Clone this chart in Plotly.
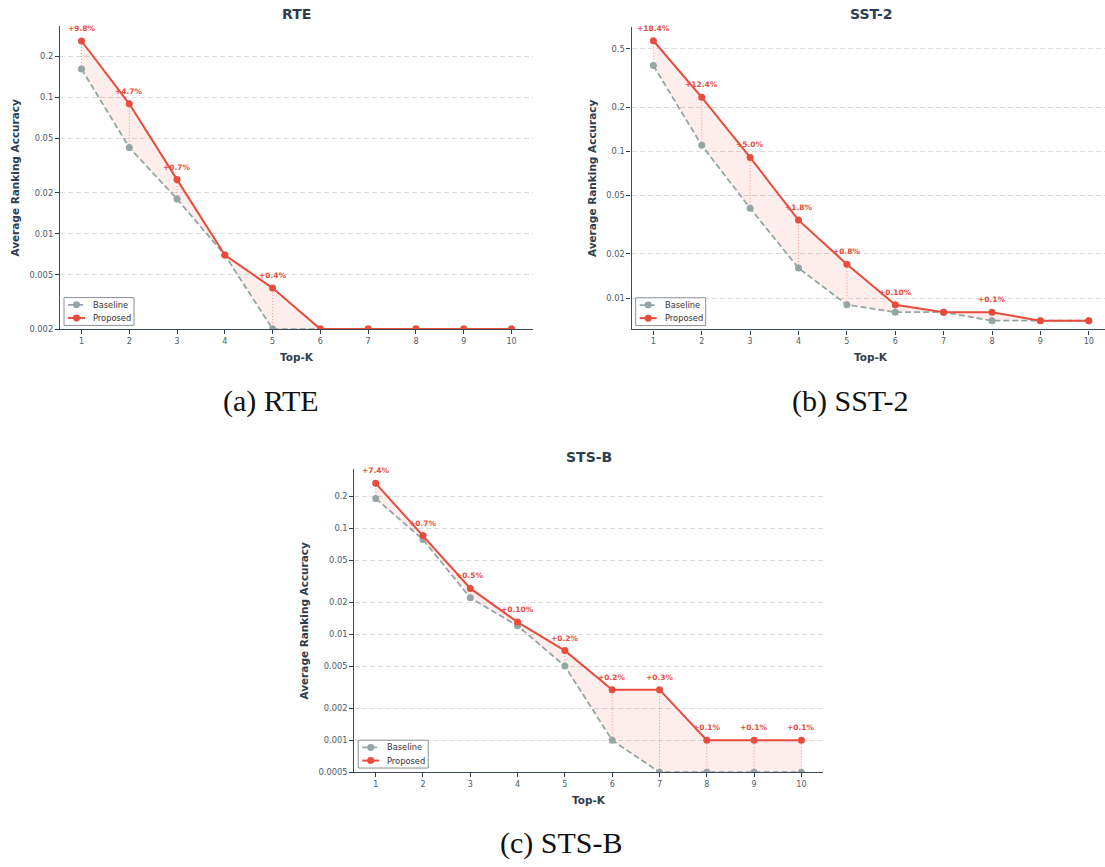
import math
import plotly.graph_objects as go

# ---------------------------------------------------------------- data
top_k = [1, 2, 3, 4, 5, 6, 7, 8, 9, 10]

rte_baseline = [0.162, 0.043, 0.018, 0.007, 0.0, 0.0, 0.0, 0.0, 0.0, 0.0]
rte_proposed = [0.260, 0.090, 0.025, 0.007, 0.004, 0.0, 0.0, 0.0, 0.0, 0.0]
rte_gains = ["+9.8%", "+4.7%", "+0.7%", None, "+0.4%", None, None, None, None, None]

sst2_baseline = [0.385, 0.110, 0.041, 0.016, 0.009, 0.008, 0.008, 0.007, 0.007, 0.007]
sst2_proposed = [0.569, 0.234, 0.091, 0.034, 0.017, 0.009, 0.008, 0.008, 0.007, 0.007]
sst2_gains = ["+18.4%", "+12.4%", "+5.0%", "+1.8%", "+0.8%", "+0.10%", None, "+0.1%", None, None]

stsb_baseline = [0.190, 0.078, 0.022, 0.012, 0.005, 0.001, 0.0, 0.0, 0.0, 0.0]
stsb_proposed = [0.264, 0.085, 0.027, 0.013, 0.007, 0.003, 0.003, 0.001, 0.001, 0.001]
stsb_gains = ["+7.4%", "+0.7%", "+0.5%", "+0.10%", "+0.2%", "+0.2%", "+0.3%", "+0.1%", "+0.1%", "+0.1%"]

rte_yticks = [0.002, 0.005, 0.01, 0.02, 0.05, 0.1, 0.2]
sst2_yticks = [0.01, 0.02, 0.05, 0.1, 0.2, 0.5]
stsb_yticks = [0.0005, 0.001, 0.002, 0.005, 0.01, 0.02, 0.05, 0.1, 0.2]

series_names = ["Baseline", "Proposed"]

# ---------------------------------------------------------------- style
W, H = 1105, 867
RED = "#e74c3c"
GREY = "#95a5a6"
DARK = "#2c3e50"
TICK = "#4d5b69"
FONT = "DejaVu Sans"
BASE_DASH = "6px,3px"


def px_x(p):
    return p / W


def px_y(p):
    return 1 - p / H


panels = [
    dict(name="RTE", caption="(a) RTE", base=rte_baseline, prop=rte_proposed,
         gains=rte_gains, floor=0.002, yticks=rte_yticks,
         box=(60, 26.3, 533, 331), xrange=[0.55, 10.45], yrange=[math.log10(0.002), -0.476],
         ytitle_x=15, legend=(64, 299.3), caption_xy=(271, 403)),
    dict(name="SST-2", caption="(b) SST-2", base=sst2_baseline, prop=sst2_proposed,
         gains=sst2_gains, floor=None, yticks=sst2_yticks,
         box=(631.6, 27, 1105, 331.3), xrange=[0.55, 10.335], yrange=[-2.214, -0.150],
         ytitle_x=592, legend=(635.7, 299.5), caption_xy=(850, 403), title_cx=871),
    dict(name="STS-B", caption="(c) STS-B", base=stsb_baseline, prop=stsb_proposed,
         gains=stsb_gains, floor=0.0005, yticks=stsb_yticks,
         box=(354.4, 471.7, 822.7, 776.7), xrange=[0.55, 10.45], yrange=[math.log10(0.0005), -0.443],
         ytitle_x=304, legend=(358.2, 744.5), caption_xy=(561, 848)),
]

fig = go.Figure()
annotations = []
shapes = []
layout = {}


def add_legend(left, top):
    """Compact boxed legend (Baseline / Proposed) in pixel units."""
    w, h = 70, 28
    shapes.append(dict(
        type="rect", xref="paper", yref="paper", layer="above",
        x0=px_x(left), x1=px_x(left + w), y0=px_y(top + h), y1=px_y(top),
        line=dict(color="#8a9096", width=1), fillcolor="rgba(255,255,255,0.92)"))
    entries = [(series_names[0], GREY, BASE_DASH, 7.3), (series_names[1], RED, "solid", 20.5)]
    for label, color, dash, dy in entries:
        yc = top + dy
        shapes.append(dict(
            type="line", xref="paper", yref="paper", layer="above",
            x0=px_x(left + 4), x1=px_x(left + 21), y0=px_y(yc), y1=px_y(yc),
            line=dict(color=color, width=1.8 if dash != "solid" else 2, dash=dash)))
        shapes.append(dict(
            type="circle", xref="paper", yref="paper", layer="above",
            x0=px_x(left + 12.5 - 3.5), x1=px_x(left + 12.5 + 3.5),
            y0=px_y(yc + 3.5), y1=px_y(yc - 3.5),
            line=dict(color=color, width=0), fillcolor=color))
        annotations.append(dict(
            x=px_x(left + 27), y=px_y(yc), xref="paper", yref="paper",
            text=label, showarrow=False, xanchor="left", yanchor="middle",
            font=dict(family=FONT, size=8.3, color="#333333")))


for i, p in enumerate(panels, start=1):
    sfx = "" if i == 1 else str(i)
    xref, yref = "x" + sfx, "y" + sfx
    floor = p["floor"] if p["floor"] is not None else 0.0

    base_plot = [max(v, floor) for v in p["base"]]
    prop_plot = [max(v, floor) for v in p["prop"]]

    # dotted connectors between baseline and proposed where there is a gain
    cx, cy = [], []
    for k, b, q, g in zip(top_k, base_plot, prop_plot, p["gains"]):
        if g is not None:
            cx += [k, k, None]
            cy += [b, q, None]
    fig.add_trace(go.Scatter(
        x=cx, y=cy, mode="lines", xaxis=xref, yaxis=yref,
        line=dict(color="rgba(231,76,60,0.55)", width=1, dash="1px,2px"),
        showlegend=False, hoverinfo="skip"))

    fig.add_trace(go.Scatter(
        x=top_k, y=base_plot, mode="lines+markers", name=series_names[0],
        xaxis=xref, yaxis=yref, showlegend=False,
        line=dict(color=GREY, width=1.8, dash=BASE_DASH),
        marker=dict(color=GREY, size=7)))

    fig.add_trace(go.Scatter(
        x=top_k, y=prop_plot, mode="lines+markers", name=series_names[1],
        xaxis=xref, yaxis=yref, showlegend=False,
        fill="tonexty", fillcolor="rgba(231,76,60,0.10)",
        line=dict(color=RED, width=2),
        marker=dict(color=RED, size=7)))

    # gain labels above the proposed markers
    for k, q, g in zip(top_k, prop_plot, p["gains"]):
        if g is not None:
            annotations.append(dict(
                x=k, y=math.log10(q), xref=xref, yref=yref, text=g,
                showarrow=False, yshift=12.5, xanchor="center", yanchor="middle",
                font=dict(family=FONT, size=7.5, color=RED, weight="bold")))

    x0, y0, x1, y1 = p["box"]
    layout["xaxis" + sfx] = dict(
        domain=[px_x(x0), min(px_x(x1), 1.0)], range=p["xrange"], anchor=yref,
        tickmode="array", tickvals=top_k, ticktext=[str(k) for k in top_k],
        ticks="outside", ticklen=4, tickwidth=1, tickcolor=DARK,
        showline=True, linecolor="#3d4a57", linewidth=1.3,
        showgrid=False, zeroline=False,
        tickfont=dict(family=FONT, size=8, color=TICK))
    layout["yaxis" + sfx] = dict(
        domain=[px_y(y1), px_y(y0)], type="log", range=p["yrange"], anchor=xref,
        tickmode="array", tickvals=p["yticks"], ticktext=[f"{t:g}" for t in p["yticks"]],
        ticks="outside", ticklen=4, tickwidth=1, tickcolor=DARK,
        showline=True, linecolor="#3d4a57", linewidth=1.3,
        showgrid=True, gridcolor="#dcdcdc", griddash="5px,3px", gridwidth=1,
        zeroline=False, tickfont=dict(family=FONT, size=8.3, color=TICK))

    add_legend(*p["legend"])

    cx_title = p.get("title_cx", (x0 + x1) / 2)
    annotations.append(dict(
        x=px_x(cx_title), y=px_y(y0 - 12.5), xref="paper", yref="paper",
        text=p["name"], showarrow=False, xanchor="center", yanchor="middle",
        font=dict(family=FONT, size=14, color=DARK, weight="bold")))
    annotations.append(dict(
        x=px_x(cx_title), y=px_y(y1 + 28), xref="paper", yref="paper",
        text="Top-K", showarrow=False, xanchor="center", yanchor="middle",
        font=dict(family=FONT, size=10.5, color=DARK, weight="bold")))
    annotations.append(dict(
        x=px_x(p["ytitle_x"]), y=px_y((y0 + y1) / 2), xref="paper", yref="paper",
        text="Average Ranking Accuracy", textangle=-90, showarrow=False,
        xanchor="center", yanchor="middle",
        font=dict(family=FONT, size=10.5, color=DARK, weight="bold")))

    capx, capy = p["caption_xy"]
    annotations.append(dict(
        x=px_x(capx), y=px_y(capy), xref="paper", yref="paper",
        text=p["caption"], showarrow=False, xanchor="center", yanchor="middle",
        font=dict(family="Liberation Serif", size=30, color="#111111")))

fig.update_layout(
    width=W, height=H, margin=dict(l=0, r=0, t=0, b=0),
    paper_bgcolor="white", plot_bgcolor="white", showlegend=False,
    annotations=annotations, shapes=shapes, hovermode=False, **layout)

fig.write_html("out.html")
